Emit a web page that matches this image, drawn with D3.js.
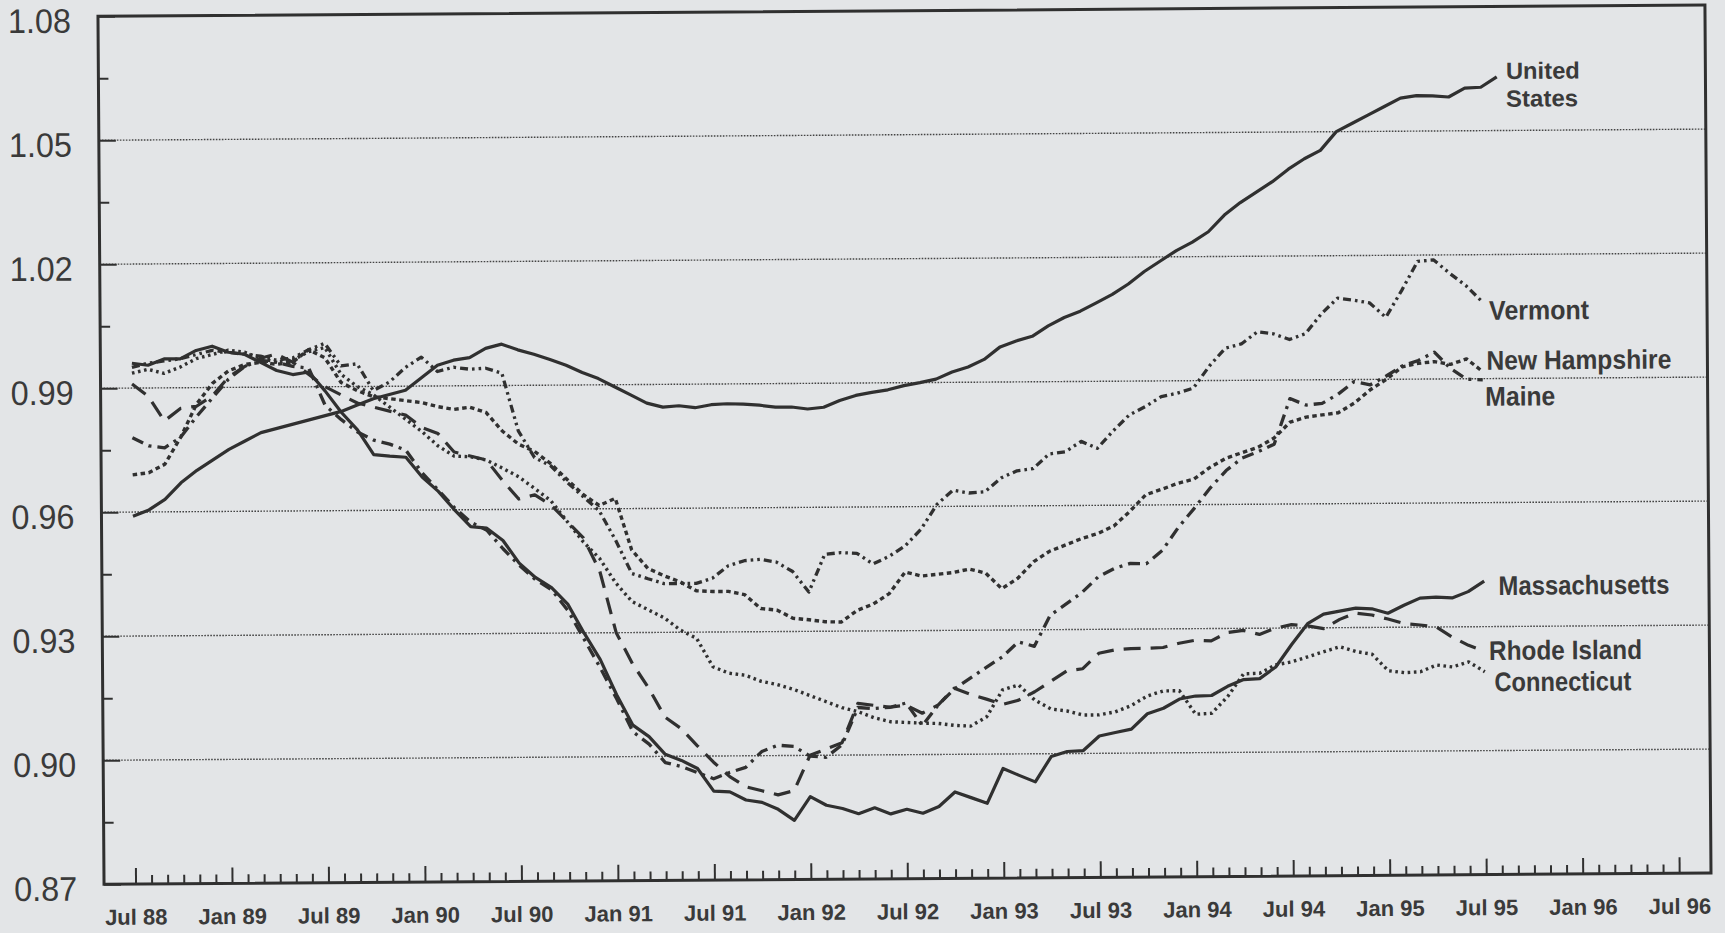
<!DOCTYPE html>
<html><head><meta charset="utf-8">
<script src="https://cdn.jsdelivr.net/npm/d3@7/dist/d3.min.js"></script>
<style>
html,body{margin:0;padding:0;background:#e3e5e7;}
svg{display:block;}
</style></head><body>
<svg id="chart" width="1725" height="933"></svg>
<script>
// ---------- DATA (monthly, index 0 = Jul 88) ----------
const xTickLabels = ["Jul 88","Jan 89","Jul 89","Jan 90","Jul 90","Jan 91","Jul 91","Jan 92","Jul 92",
                     "Jan 93","Jul 93","Jan 94","Jul 94","Jan 95","Jul 95","Jan 96","Jul 96"];
const yTickLabels = ["0.87","0.90","0.93","0.96","0.99","1.02","1.05","1.08"];

const unitedStates = [0.959,0.9605,0.963,0.967,0.970,0.9725,0.975,0.977,0.979,0.980,
 0.981,0.982,0.983,0.984,0.9855,0.987,0.988,0.989,0.992,0.995,
 0.9962,0.9968,0.999,1.000,0.9986,0.9975,0.9962,0.9948,0.993,0.9915,
 0.9895,0.9875,0.9855,0.9845,0.9848,0.9843,0.985,0.9852,0.9851,0.9848,
 0.9843,0.9843,0.9838,0.9842,0.9858,0.987,0.9877,0.9883,0.9893,0.990,
 0.9908,0.9925,0.9937,0.9955,0.9985,0.9999,1.001,1.0035,1.0055,1.007,
 1.009,1.011,1.0135,1.0165,1.019,1.0215,1.0235,1.026,1.030,1.033,
 1.0355,1.038,1.041,1.0435,1.0455,1.050,1.052,1.054,1.056,1.058,
 1.0586,1.0585,1.0582,1.0603,1.0605,1.063];

const massachusetts = [0.996,0.9955,0.997,0.997,0.999,1.000,0.9985,0.998,0.996,0.994,
 0.993,0.9936,0.989,0.9838,0.9795,0.9735,0.9731,0.9728,0.968,0.9645,
 0.960,0.9559,0.9555,0.9525,0.947,0.9435,0.941,0.937,0.930,0.9235,
 0.915,0.9076,0.9048,0.9005,0.899,0.897,0.8915,0.8913,0.8893,0.8887,
 0.887,0.8843,0.890,0.8879,0.8871,0.8858,0.8872,0.8857,0.8868,0.8858,
 0.8874,0.8909,0.8895,0.8881,0.8965,0.8948,0.8932,0.8993,0.9005,0.9007,
 0.9042,0.905,0.9058,0.9095,0.9108,0.913,0.9137,0.9138,0.916,0.9176,
 0.9178,0.9206,0.926,0.931,0.9333,0.934,0.9347,0.9345,0.9334,0.9353,
 0.937,0.9372,0.937,0.9385,0.941];

const rhodeIsland = [0.991,0.988,0.982,0.985,0.9855,0.988,0.9925,0.995,0.997,0.998,
 0.996,0.993,0.990,0.988,0.986,0.985,0.984,0.983,0.980,0.9785,
 0.974,0.973,0.972,0.967,0.9625,0.9635,0.961,0.957,0.953,0.945,
 0.930,0.9225,0.9165,0.9095,0.9067,0.9025,0.8985,0.895,0.8925,0.8915,
 0.8905,0.8915,0.900,0.9015,0.903,0.9125,0.912,0.9115,0.912,0.910,
 0.912,0.916,0.9145,0.9133,0.912,0.913,0.915,0.9175,0.920,0.9205,
 0.9242,0.925,0.9253,0.9253,0.9255,0.9265,0.9272,0.927,0.929,0.9295,
 0.9285,0.930,0.9308,0.9305,0.9298,0.932,0.9335,0.933,0.932,0.9309,
 0.9305,0.930,0.9275,0.9255,0.924];

const connecticut = [0.9936,0.9945,0.9935,0.995,0.997,0.998,0.999,0.9985,0.997,0.996,
 0.9965,0.9985,0.9995,0.993,0.990,0.988,0.985,0.982,0.979,0.9755,
 0.973,0.9728,0.972,0.970,0.9679,0.965,0.962,0.957,0.952,0.948,
 0.942,0.9375,0.9355,0.9335,0.9305,0.9285,0.9216,0.920,0.9195,0.918,
 0.9172,0.916,0.9145,0.913,0.9115,0.9105,0.909,0.908,0.9078,0.9076,
 0.9075,0.907,0.9068,0.909,0.9155,0.9167,0.913,0.9108,0.9103,0.9093,
 0.9093,0.910,0.9115,0.9138,0.915,0.915,0.9093,0.9095,0.9135,0.919,
 0.9191,0.9211,0.9218,0.923,0.9242,0.9254,0.9242,0.9235,0.9195,0.919,
 0.9192,0.9208,0.9203,0.9215,0.9191];

const newHampshire = [0.969,0.9695,0.9715,0.978,0.986,0.991,0.994,0.9955,0.996,0.9955,
 0.996,0.999,0.997,0.991,0.989,0.9875,0.987,0.9865,0.986,0.985,
 0.9843,0.9848,0.9835,0.979,0.9758,0.974,0.971,0.9672,0.9635,0.9608,
 0.9625,0.950,0.9455,0.9437,0.9422,0.940,0.9398,0.9398,0.939,0.9356,
 0.9352,0.9332,0.9328,0.9323,0.9322,0.935,0.9365,0.939,0.9442,0.9432,
 0.9436,0.944,0.9448,0.9438,0.940,0.9425,0.9465,0.949,0.9505,0.952,
 0.9532,0.955,0.9585,0.9625,0.9638,0.9652,0.9662,0.969,0.9712,0.9725,
 0.9738,0.976,0.9798,0.981,0.9815,0.982,0.9843,0.9875,0.990,0.993,
 0.9938,0.9942,0.9935,0.9948,0.9917];

const maine = [0.978,0.976,0.9755,0.978,0.983,0.9875,0.992,0.995,0.9965,0.996,
 0.995,0.9945,0.9855,0.982,0.979,0.977,0.976,0.9745,0.969,0.9648,
 0.9605,0.957,0.955,0.9505,0.9465,0.943,0.9405,0.9355,0.9285,0.9215,
 0.914,0.906,0.903,0.8985,0.8975,0.896,0.8945,0.896,0.8972,0.901,
 0.9025,0.9022,0.8998,0.8995,0.9025,0.9115,0.9112,0.9115,0.9125,0.907,
 0.912,0.9158,0.9184,0.921,0.9235,0.9271,0.926,0.9335,0.9362,0.939,
 0.9427,0.9447,0.9459,0.9458,0.949,0.9545,0.9591,0.964,0.9682,0.9712,
 0.9727,0.9745,0.9855,0.9839,0.9843,0.9865,0.9895,0.9887,0.9908,0.9932,
 0.9945,0.9965,0.9925,0.9899,0.9897];

const vermont = [0.995,0.996,0.9965,0.997,0.998,0.999,0.9985,0.998,0.9975,0.9965,
 0.997,0.999,1.0005,0.995,0.9955,0.989,0.991,0.9945,0.997,0.9935,
 0.9945,0.994,0.9942,0.993,0.979,0.9725,0.9705,0.9665,0.963,0.9595,
 0.9524,0.9443,0.943,0.9418,0.9418,0.9418,0.943,0.946,0.9472,0.9475,
 0.9468,0.9445,0.9395,0.9486,0.949,0.9488,0.9462,0.948,0.9505,0.9545,
 0.9605,0.9639,0.9632,0.9635,0.9668,0.9685,0.969,0.9725,0.973,0.9755,
 0.9738,0.978,0.9818,0.9838,0.9862,0.987,0.9882,0.9935,0.9978,0.9988,
 1.0017,1.0012,0.9998,1.0012,1.006,1.0097,1.0092,1.0085,1.005,1.0115,
 1.0185,1.0188,1.0155,1.0125,1.0086];

// ---------- LAYOUT ----------
const svg = d3.select("#chart");
svg.append("rect").attr("width",1725).attr("height",933).attr("fill","#e3e5e7");
const ink = "#303030";
const font = "'Liberation Sans', Arial, sans-serif";
const frame = {left:101, right:1708, top:16.3, bottom:884.3};

const x = d3.scaleLinear().domain([0, 96]).range([132.5, 132.5 + 96*16.08]);
const y = d3.scaleLinear().domain([0.87, 1.08]).range([frame.bottom, frame.top]);

// the scanned original is slightly rotated
const g = svg.append("g").attr("transform","rotate(-0.4,100,450)");

const yVals = yTickLabels.map(Number);
const yMinor = d3.range(0, yVals.length-1).map(i => (yVals[i]+yVals[i+1])/2);

// gridlines
g.append("g").selectAll("line").data(yVals.slice(1, -1)).join("line")
  .attr("x1", frame.left).attr("x2", frame.right)
  .attr("y1", d => y(d)).attr("y2", d => y(d))
  .attr("stroke", "#444").attr("stroke-width", 1.4).attr("stroke-dasharray", "1.6,1.4");

// series
const line = d3.line().x((d,i) => x(i)).y(d => y(d));
const series = [
  {v: connecticut,   dash: "2.6,3.6",             w: 3.4},
  {v: rhodeIsland,   dash: "17,10",               w: 3.2},
  {v: newHampshire,  dash: "4.5,3.5",             w: 3.4},
  {v: maine,         dash: "12,6,3,6",            w: 3.3},
  {v: vermont,       dash: "8,4,2.6,4,2.6,4",     w: 3.3},
  {v: massachusetts, dash: null,                  w: 3.2},
  {v: unitedStates,  dash: null,                  w: 3.2}
];
g.append("g").selectAll("path").data(series).join("path")
  .attr("d", d => line(d.v))
  .attr("fill", "none").attr("stroke", ink)
  .attr("stroke-width", d => d.w)
  .attr("stroke-linejoin", "round")
  .attr("stroke-dasharray", d => d.dash);

// frame
g.append("rect").attr("x", frame.left).attr("y", frame.top)
  .attr("width", frame.right - frame.left).attr("height", frame.bottom - frame.top)
  .attr("fill", "none").attr("stroke", ink).attr("stroke-width", 3);

// y axis (ticks pointing inward)
const yAxis = d3.axisLeft(y).tickValues(yVals).tickFormat((d,i) => yTickLabels[i])
  .tickSizeInner(-17).tickSizeOuter(0).tickPadding(27);
const ya = g.append("g").attr("transform", `translate(${frame.left},0)`).call(yAxis);
ya.select(".domain").remove();
ya.selectAll(".tick line").attr("stroke", ink).attr("stroke-width", 2);
ya.selectAll(".tick text").attr("fill", "#3a3a3a").attr("font-family", font)
  .attr("font-size", 34).attr("dy", "0.46em")
  .attr("textLength", 63).attr("lengthAdjust", "spacingAndGlyphs");
const yAxisMinor = d3.axisLeft(y).tickValues(yMinor).tickFormat("").tickSizeInner(-10).tickSizeOuter(0);
const ym = g.append("g").attr("transform", `translate(${frame.left},0)`).call(yAxisMinor);
ym.select(".domain").remove();
ym.selectAll(".tick line").attr("stroke", ink).attr("stroke-width", 2);

// x axis (ticks pointing upward)
const xAxis = d3.axisBottom(x).tickValues(d3.range(0, 97, 6)).tickFormat((d,i) => xTickLabels[i])
  .tickSizeInner(-16).tickSizeOuter(0).tickPadding(25);
const xa = g.append("g").attr("transform", `translate(0,${frame.bottom})`).call(xAxis);
xa.select(".domain").remove();
xa.selectAll(".tick line").attr("stroke", ink).attr("stroke-width", 2);
xa.selectAll(".tick text").attr("fill", "#3a3a3a").attr("font-family", font)
  .attr("font-size", 22).attr("font-weight", "bold");
const xAxisMinor = d3.axisBottom(x).tickValues(d3.range(0, 97).filter(d => d % 6 !== 0))
  .tickFormat("").tickSizeInner(-9).tickSizeOuter(0);
const xm = g.append("g").attr("transform", `translate(0,${frame.bottom})`).call(xAxisMinor);
xm.select(".domain").remove();
xm.selectAll(".tick line").attr("stroke", ink).attr("stroke-width", 2);

// direct labels (anchored in data units: month index, value; width of the scanned type)
const labels = [
  {t: "United",        m: 85.57, v: 1.0645, w: 74,  fs: 23.5},
  {t: "States",        m: 85.57, v: 1.0578, w: 72,  fs: 23.5},
  {t: "Vermont",       m: 84.42, v: 1.0066, w: 100, fs: 27},
  {t: "New Hampshire", m: 84.23, v: 0.9945, w: 185, fs: 27},
  {t: "Maine",         m: 84.15, v: 0.9858, w: 70,  fs: 27},
  {t: "Massachusetts", m: 84.89, v: 0.9400, w: 171, fs: 27},
  {t: "Rhode Island",  m: 84.27, v: 0.9243, w: 153, fs: 27},
  {t: "Connecticut",   m: 84.59, v: 0.9167, w: 137, fs: 27}
];
g.append("g").selectAll("text").data(labels).join("text")
  .attr("x", d => x(d.m)).attr("y", d => y(d.v)).attr("dy", "0.36em")
  .attr("font-family", font).attr("font-size", d => d.fs).attr("font-weight", "bold").attr("fill", "#3a3a3a")
  .attr("textLength", d => d.w).attr("lengthAdjust", "spacingAndGlyphs")
  .text(d => d.t);
</script>
</body></html>
